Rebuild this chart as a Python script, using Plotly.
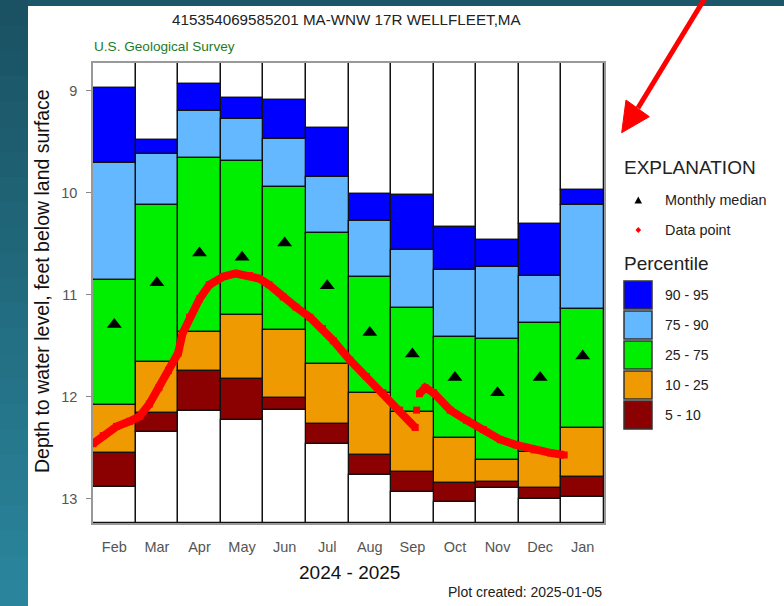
import pandas as pd
import plotly.graph_objects as go

FONT = "Arial, Liberation Sans, sans-serif"

# monthly percentile statistics, depth to water (ft below land surface)
months = ["Feb", "Mar", "Apr", "May", "Jun", "Jul", "Aug", "Sep", "Oct", "Nov", "Dec", "Jan"]
p95 = [8.97, 9.48, 8.93, 9.07, 9.09, 9.36, 10.01, 10.02, 10.33, 10.46, 10.30, 9.97]
p90 = [9.71, 9.62, 9.20, 9.28, 9.47, 9.84, 10.28, 10.56, 10.76, 10.73, 10.81, 10.12]
p75 = [10.85, 10.12, 9.66, 9.69, 9.94, 10.39, 10.82, 11.13, 11.41, 11.43, 11.28, 11.14]
p25 = [12.08, 11.66, 11.36, 11.20, 11.34, 11.68, 11.96, 12.15, 12.40, 12.62, 12.54, 12.31]
p10 = [12.55, 12.16, 11.75, 11.82, 12.01, 12.27, 12.57, 12.74, 12.84, 12.83, 12.89, 12.79]
p5 = [12.88, 12.34, 12.14, 12.23, 12.13, 12.46, 12.77, 12.93, 13.03, 12.89, 13.00, 12.98]
median = [11.29, 10.88, 10.59, 10.63, 10.49, 10.91, 11.37, 11.58, 11.81, 11.96, 11.81, 11.60]

# observed data points (None = gap in record)
obs_dates = [
    "2024-02-01", "2024-02-08", "2024-02-17", "2024-02-26", "2024-03-04", "2024-03-11",
    "2024-03-18", "2024-03-25", "2024-04-01", "2024-04-04", "2024-04-09", "2024-04-16",
    "2024-04-23", "2024-05-03", "2024-05-12", "2024-05-22", "2024-05-29", "2024-06-05",
    "2024-06-15", "2024-06-24", "2024-07-04", "2024-07-13", "2024-07-21", "2024-08-02",
    "2024-08-14", "2024-08-26", "2024-09-07", "2024-09-18", None,
    "2024-09-19", None,
    "2024-09-21", "2024-09-25", "2024-10-01", "2024-10-13", "2024-10-25", "2024-11-06",
    "2024-11-18", "2024-11-29", "2024-12-12", "2024-12-24", "2025-01-03",
]
obs_depth = [
    12.46, 12.38, 12.29, 12.24, 12.19, 12.07,
    11.91, 11.74, 11.57, 11.38, 11.22, 11.04,
    10.90, 10.82, 10.79, 10.81, 10.84, 10.90,
    11.02, 11.12, 11.22, 11.33, 11.45, 11.64,
    11.80, 11.96, 12.13, 12.30, None,
    12.13, None,
    11.97, 11.91, 11.96, 12.13, 12.23, 12.32,
    12.42, 12.47, 12.52, 12.55, 12.57,
]

Y_TOP, Y_BOT = 8.726, 13.237
W, H = 784, 606
L, R, T, B = 93, 604, 63, 523

d = pd.to_datetime(pd.Series(obs_dates))
obs_x = (d.dt.year - 2024) * 12 + d.dt.month - 2 + (d.dt.day - 1) / d.dt.days_in_month

xc = [i + 0.5 for i in range(len(months))]


def px(x):
    return (x - L) / (R - L)


def py(y):
    return (B - y) / (B - T)


bands = [
    ([Y_TOP] * 12, p95, "white"),
    (p95, p90, "#0000FF"),
    (p90, p75, "#63B8FF"),
    (p75, p25, "#00EE00"),
    (p25, p10, "#EE9A00"),
    (p10, p5, "#8B0000"),
    (p5, [Y_BOT] * 12, "white"),
]

fig = go.Figure()
for lo, hi, col in bands:
    fig.add_bar(x=xc, base=lo, y=[h - l for l, h in zip(lo, hi)], width=1,
                marker=dict(color=col, line=dict(color="#111111", width=1.3)),
                showlegend=False, hoverinfo="skip")

fig.add_scatter(x=xc, y=median, mode="markers", showlegend=False,
                marker=dict(symbol="triangle-up", size=13, color="black"))
fig.add_scatter(x=obs_x, y=obs_depth, mode="lines+markers", showlegend=False,
                connectgaps=False,
                line=dict(color="#FF0000", width=8),
                marker=dict(symbol="square", size=7, color="#FF0000"))

fig.update_xaxes(range=[0, 12], tickvals=xc, ticktext=months, ticks="",
                 showgrid=False, zeroline=False, showline=True, mirror=True,
                 linecolor="#999999", linewidth=1.5, ticklabelstandoff=10,
                 tickfont=dict(family=FONT, size=14.5, color="#555555"))
fig.update_yaxes(range=[Y_BOT, Y_TOP], tickvals=[9, 10, 11, 12, 13], ticks="outside",
                 ticklen=5, tickcolor="#888888", showgrid=False, zeroline=False,
                 showline=True, mirror=True, linecolor="#999999", linewidth=1.5,
                 ticklabelstandoff=6,
                 tickfont=dict(family=FONT, size=14.5, color="#555555"))

# page background: teal strip with a vertical gradient + white panel
shapes = []
n = 24
top_rgb, bot_rgb = (26, 82, 99), (42, 133, 156)
for i in range(n):
    f = i / (n - 1)
    c = "rgb({},{},{})".format(*[round(a + (b - a) * f) for a, b in zip(top_rgb, bot_rgb)])
    shapes.append(dict(type="rect", xref="paper", yref="paper", layer="below",
                       x0=px(0), x1=px(28.5), y0=py(H * i / n), y1=py(H * (i + 1) / n + 1),
                       line=dict(width=0), fillcolor=c))
shapes.append(dict(type="rect", xref="paper", yref="paper", layer="below",
                   x0=px(28), x1=px(W), y0=py(0), y1=py(6), line=dict(width=0),
                   fillcolor="#1b5769"))
shapes.append(dict(type="rect", xref="paper", yref="paper", layer="below",
                   x0=px(28), x1=px(W), y0=py(6), y1=py(H), line=dict(width=0),
                   fillcolor="white"))

# red arrow
shapes.append(dict(type="line", xref="paper", yref="paper", layer="above",
                   x0=px(705), y0=py(-2), x1=px(638), y1=py(108),
                   line=dict(color="#FF0000", width=5)))
shapes.append(dict(type="path", xref="paper", yref="paper", layer="above",
                   path=f"M {px(621.7)} {py(132.7)} L {px(626)} {py(100)} "
                        f"L {px(649.3)} {py(116.7)} Z",
                   fillcolor="#FF0000", line=dict(color="#FF0000", width=1)))

# legend symbols
shapes.append(dict(type="path", xref="paper", yref="paper",
                   path=f"M {px(634.5)} {py(203.5)} L {px(642)} {py(203.5)} "
                        f"L {px(638.3)} {py(196.5)} Z",
                   fillcolor="black", line=dict(width=0)))
shapes.append(dict(type="path", xref="paper", yref="paper",
                   path=f"M {px(635.5)} {py(230)} L {px(638.3)} {py(227)} "
                        f"L {px(641.1)} {py(230)} L {px(638.3)} {py(233)} Z",
                   fillcolor="#FF0000", line=dict(width=0)))

legend_items = [("90 - 95", "#0000FF"), ("75 - 90", "#63B8FF"), ("25 - 75", "#00EE00"),
                ("10 - 25", "#EE9A00"), ("5 - 10", "#8B0000")]
ann = []
for i, (lab, col) in enumerate(legend_items):
    y0 = 281 + 30 * i
    shapes.append(dict(type="rect", xref="paper", yref="paper",
                       x0=px(624), x1=px(652), y0=py(y0), y1=py(y0 + 28),
                       fillcolor=col, line=dict(color="#333333", width=1.5)))
    ann.append(dict(text=lab, x=px(663), y=py(y0 + 14), xanchor="left", yanchor="middle",
                    font=dict(family=FONT, size=14, color="#222222")))


def txt(s, x, y, size, color="#222222", xanchor="left", angle=0):
    return dict(text=s, x=px(x), y=py(y), xanchor=xanchor, yanchor="middle",
                textangle=angle, font=dict(family=FONT, size=size, color=color))


ann += [
    txt("415354069585201 MA-WNW 17R WELLFLEET,MA", 346, 20, 15.2, xanchor="center"),
    txt("U.S. Geological Survey", 92, 46, 13.6, color="#1f7a1f"),
    txt("Plot created: 2025-01-05", 604, 592, 14, xanchor="right"),
    txt("EXPLANATION", 622, 167, 19),
    txt("Monthly median", 663, 200, 14.4),
    txt("Data point", 663, 230, 14.4),
    txt("Percentile", 622, 263, 19),
    txt("2024 - 2025", 349, 572, 19, color="#111111", xanchor="center"),
    txt("Depth to water level, feet below land surface", 42, 281, 19.5,
        color="#111111", xanchor="center", angle=-90),
]
for a in ann:
    a.update(xref="paper", yref="paper", showarrow=False)

fig.update_layout(width=W, height=H, autosize=False,
                  margin=dict(l=L, r=W - R, t=T, b=H - B, pad=0),
                  paper_bgcolor="#1f6478", plot_bgcolor="white",
                  barmode="overlay", bargap=0,
                  font=dict(family=FONT),
                  shapes=shapes, annotations=ann)

fig.write_html("out.html", config={"displayModeBar": False},
               post_script="document.body.style.margin='0';"
                           "document.body.style.background='#1f6478';")
